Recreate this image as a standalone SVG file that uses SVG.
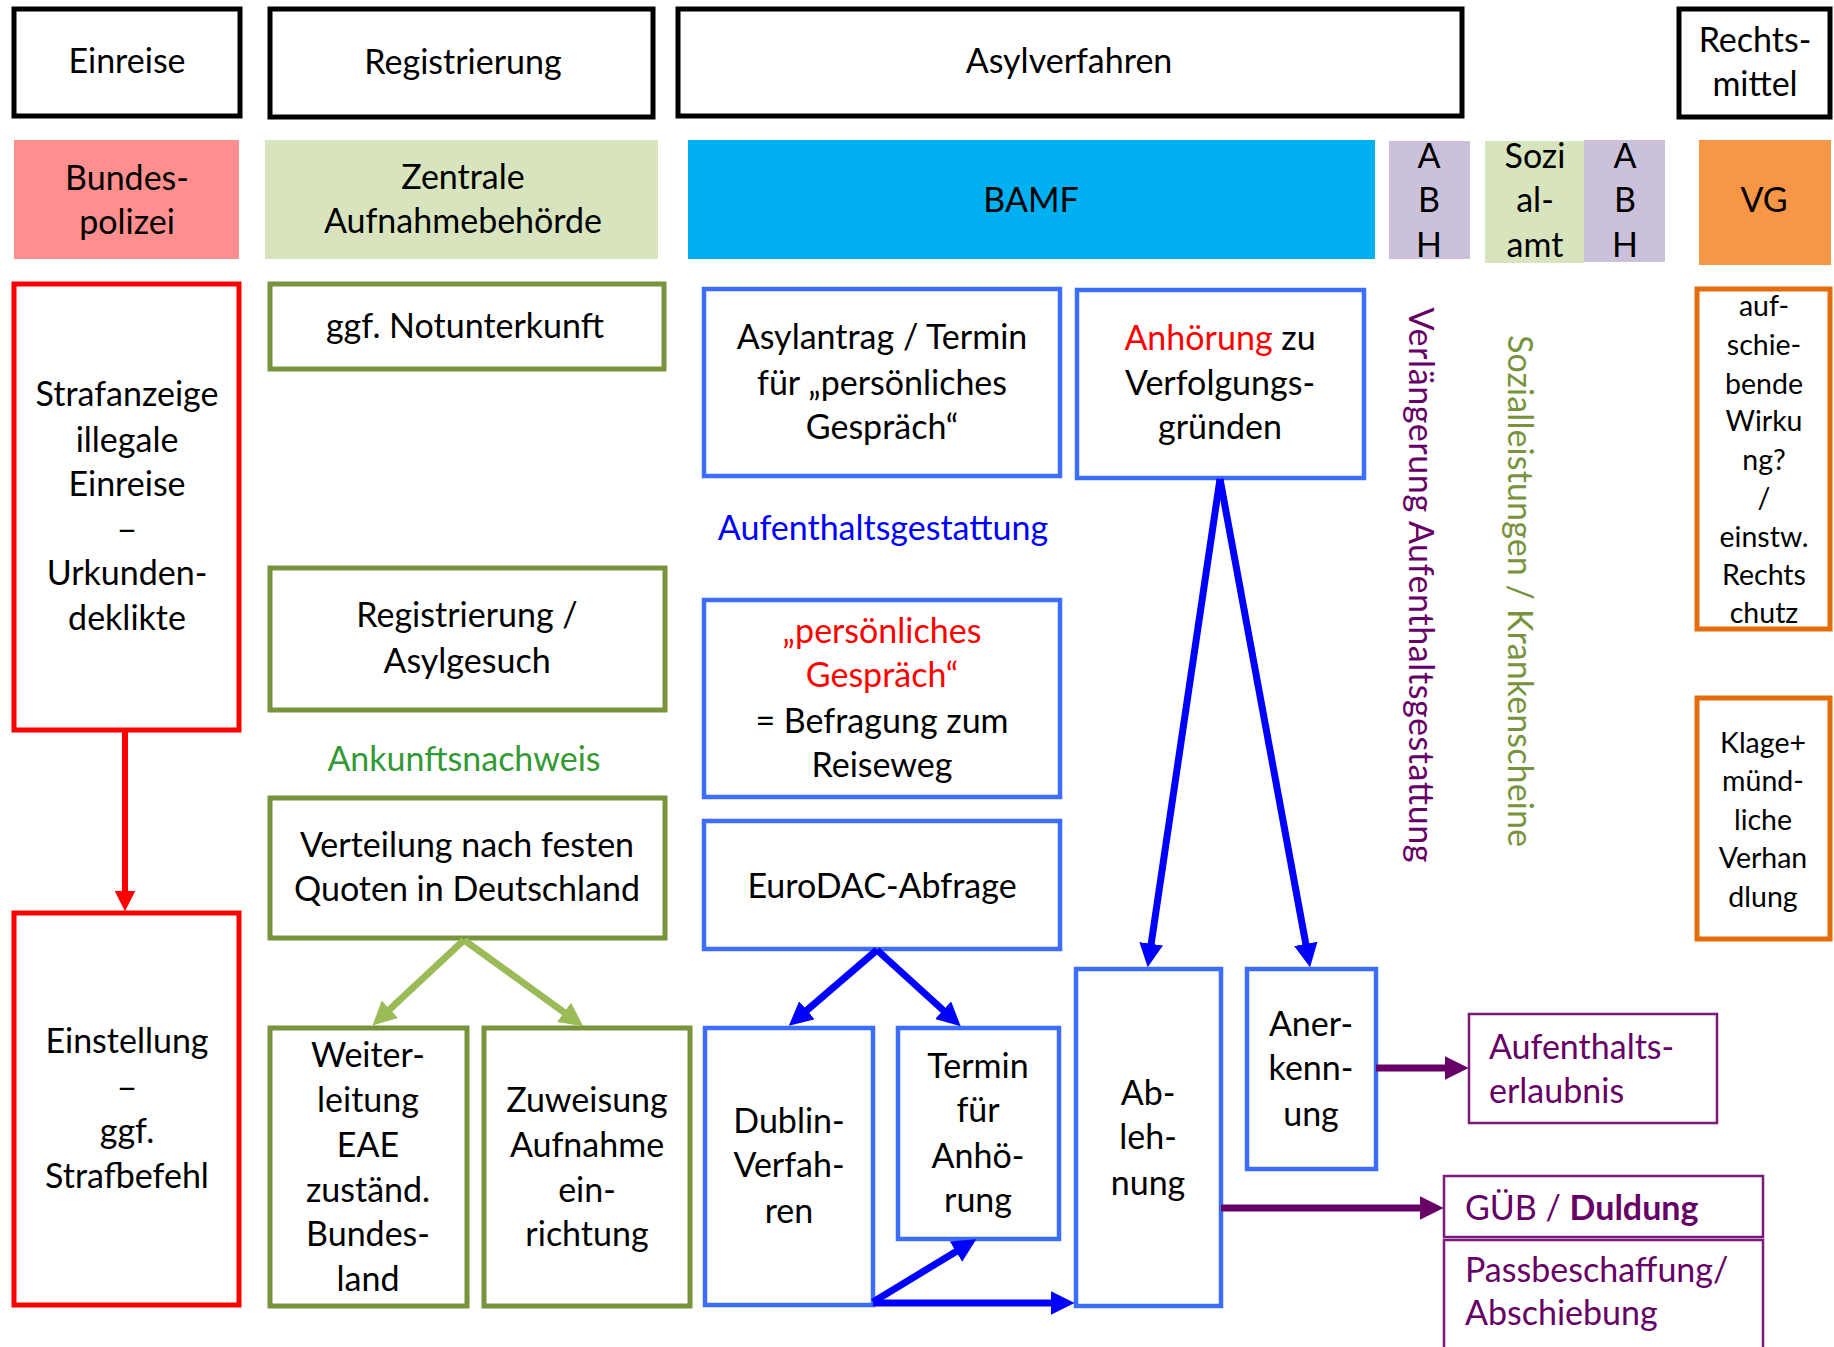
<svg xmlns="http://www.w3.org/2000/svg" width="1834" height="1347" viewBox="0 0 1834 1347">
  <style>
    text { font-family: Lato, "Open Sans", "Liberation Sans", sans-serif; font-size: 34px; fill: #000; text-anchor: middle; }
    .sm { font-size: 28.5px; }
    .lt { text-anchor: start; }
    .hdr { fill: #fff; stroke: #000; stroke-width: 5; }
    .red { fill: #fff; stroke: #ff0000; stroke-width: 5; }
    .grn { fill: #fff; stroke: #77933c; stroke-width: 5; }
    .blu { fill: #fff; stroke: #3d6dff; stroke-width: 4.5; }
    .org { fill: #fff; stroke: #e46c0a; stroke-width: 5; }
    .pur { fill: #fff; stroke: #7a1a7a; stroke-width: 2.5; }
    .c-red { fill: #ff0000; }
    .c-blue { fill: #0000ff; }
    .c-green { fill: #339933; }
    .c-olive { fill: #77933c; }
    .c-purple { fill: #660066; }
    .arr { fill: none; stroke-linecap: butt; stroke-linejoin: miter; }
  </style>
  <defs>
    <marker id="ah-red" viewBox="0 0 10 10" refX="0.5" refY="5" markerWidth="3.4" markerHeight="3.4" orient="auto" markerUnits="strokeWidth">
      <path d="M0,0 L10,5 L0,10 z" fill="#ff0000"/>
    </marker>
    <marker id="ah-green" viewBox="0 0 10 10" refX="0.5" refY="5" markerWidth="3.4" markerHeight="3.4" orient="auto" markerUnits="strokeWidth">
      <path d="M0,0 L10,5 L0,10 z" fill="#9bbb59"/>
    </marker>
    <marker id="ah-blue" viewBox="0 0 10 10" refX="0.5" refY="5" markerWidth="3.4" markerHeight="3.4" orient="auto" markerUnits="strokeWidth">
      <path d="M0,0 L10,5 L0,10 z" fill="#0000ff"/>
    </marker>
    <marker id="ah-purple" viewBox="0 0 10 10" refX="0.5" refY="5" markerWidth="3.4" markerHeight="3.4" orient="auto" markerUnits="strokeWidth">
      <path d="M0,0 L10,5 L0,10 z" fill="#660066"/>
    </marker>
  </defs>

  <rect width="1834" height="1347" fill="#fff"/>

  <!-- phase headers -->
  <g id="hdr-einreise"><rect class="hdr" x="14" y="9" width="226" height="107"/><text x="127" y="73">Einreise</text></g>
  <g id="hdr-registrierung"><rect class="hdr" x="270" y="9" width="383" height="108"/><text x="463" y="74">Registrierung</text></g>
  <g id="hdr-asylverfahren"><rect class="hdr" x="678" y="9" width="784" height="107"/><text x="1069" y="73">Asylverfahren</text></g>
  <g id="hdr-rechtsmittel"><rect class="hdr" x="1679" y="9" width="151" height="108"/><text x="1755" y="52">Rechts-</text><text x="1755" y="96">mittel</text></g>

  <!-- authorities -->
  <g id="ag-bundespolizei"><rect x="14" y="140" width="225" height="119" fill="#ff8f8f"/><text x="127" y="190">Bundes-</text><text x="127" y="234">polizei</text></g>
  <g id="ag-zab"><rect x="265" y="140" width="393" height="119" fill="#d7e4bd"/><text x="463" y="189">Zentrale</text><text x="463" y="233">Aufnahmebehörde</text></g>
  <g id="ag-bamf"><rect x="688" y="140" width="687" height="119" fill="#00b0f0"/><text x="1031" y="212">BAMF</text></g>
  <g id="ag-abh1"><rect x="1389" y="141" width="81" height="118" fill="#ccc1da"/><text x="1429" y="168">A</text><text x="1429" y="212">B</text><text x="1429" y="257">H</text></g>
  <g id="ag-sozialamt"><rect x="1485" y="141" width="99" height="122" fill="#d7e4bd"/><text x="1535" y="168">Sozi</text><text x="1535" y="212">al-</text><text x="1535" y="257">amt</text></g>
  <g id="ag-abh2"><rect x="1584" y="140" width="81" height="122" fill="#ccc1da"/><text x="1625" y="168">A</text><text x="1625" y="212">B</text><text x="1625" y="257">H</text></g>
  <g id="ag-vg"><rect x="1699" y="140" width="132" height="125" fill="#f79646"/><text x="1764" y="212">VG</text></g>

  <!-- Einreise column -->
  <g id="n-strafanzeige">
    <rect class="red" x="14" y="284" width="225" height="446"/>
    <text x="127" y="406">Strafanzeige</text>
    <text x="127" y="452">illegale</text>
    <text x="127" y="496">Einreise</text>
    <text x="127" y="541" textLength="21" lengthAdjust="spacingAndGlyphs">–</text>
    <text x="127" y="585">Urkunden-</text>
    <text x="127" y="630">deklikte</text>
  </g>
  <g id="n-einstellung">
    <rect class="red" x="14" y="913" width="225" height="392"/>
    <text x="127" y="1053">Einstellung</text>
    <text x="127" y="1099" textLength="21" lengthAdjust="spacingAndGlyphs">–</text>
    <text x="127" y="1143">ggf.</text>
    <text x="127" y="1188">Strafbefehl</text>
  </g>

  <!-- Registrierung column -->
  <g id="n-notunterkunft"><rect class="grn" x="270" y="284" width="394" height="85"/><text x="465" y="338">ggf. Notunterkunft</text></g>
  <g id="n-asylgesuch"><rect class="grn" x="270" y="568" width="395" height="142"/><text x="467" y="627">Registrierung /</text><text x="467" y="673">Asylgesuch</text></g>
  <g id="l-ankunftsnachweis"><text class="c-green" x="464" y="771">Ankunftsnachweis</text></g>
  <g id="n-verteilung"><rect class="grn" x="270" y="798" width="395" height="140"/><text x="467" y="857">Verteilung nach festen</text><text x="467" y="901">Quoten in Deutschland</text></g>
  <g id="n-weiterleitung">
    <rect class="grn" x="270" y="1028" width="197" height="278"/>
    <text x="368" y="1067">Weiter-</text>
    <text x="368" y="1112">leitung</text>
    <text x="368" y="1157">EAE</text>
    <text x="368" y="1202">zuständ.</text>
    <text x="368" y="1246">Bundes-</text>
    <text x="368" y="1291">land</text>
  </g>
  <g id="n-zuweisung">
    <rect class="grn" x="484" y="1028" width="206" height="278"/>
    <text x="587" y="1112">Zuweisung</text>
    <text x="587" y="1157">Aufnahme</text>
    <text x="587" y="1202">ein-</text>
    <text x="587" y="1246">richtung</text>
  </g>

  <!-- Asylverfahren column -->
  <g id="n-asylantrag">
    <rect class="blu" x="704" y="289" width="356" height="187"/>
    <text x="882" y="349">Asylantrag / Termin</text>
    <text x="882" y="395">für „persönliches</text>
    <text x="882" y="439">Gespräch“</text>
  </g>
  <g id="n-anhoerung">
    <rect class="blu" x="1077" y="290" width="287" height="188"/>
    <text x="1220" y="350"><tspan class="c-red">Anhörung</tspan> zu</text>
    <text x="1220" y="395">Verfolgungs-</text>
    <text x="1220" y="439">gründen</text>
  </g>
  <g id="l-gestattung"><text class="c-blue" x="883" y="540">Aufenthaltsgestattung</text></g>
  <g id="n-gespraech">
    <rect class="blu" x="704" y="600" width="356" height="197"/>
    <text class="c-red" x="882" y="643">„persönliches</text>
    <text class="c-red" x="882" y="687">Gespräch“</text>
    <text x="882" y="733">= Befragung zum</text>
    <text x="882" y="777">Reiseweg</text>
  </g>
  <g id="n-eurodac"><rect class="blu" x="704" y="821" width="356" height="128"/><text x="882" y="898">EuroDAC-Abfrage</text></g>
  <g id="n-dublin">
    <rect class="blu" x="705" y="1028" width="168" height="277"/>
    <text x="789" y="1133">Dublin-</text>
    <text x="789" y="1177">Verfah-</text>
    <text x="789" y="1223">ren</text>
  </g>
  <g id="n-termin">
    <rect class="blu" x="898" y="1028" width="161" height="211"/>
    <text x="978" y="1078">Termin</text>
    <text x="978" y="1122">für</text>
    <text x="978" y="1168">Anhö-</text>
    <text x="978" y="1212">rung</text>
  </g>
  <g id="n-ablehnung">
    <rect class="blu" x="1076" y="969" width="145" height="337"/>
    <text x="1148" y="1105">Ab-</text>
    <text x="1148" y="1149">leh-</text>
    <text x="1148" y="1195">nung</text>
  </g>
  <g id="n-anerkennung">
    <rect class="blu" x="1247" y="969" width="129" height="200"/>
    <text x="1311" y="1036">Aner-</text>
    <text x="1311" y="1080">kenn-</text>
    <text x="1311" y="1126">ung</text>
  </g>

  <!-- vertical side notes -->
  <g id="l-verlaengerung"><text class="c-purple" transform="translate(1409,585) rotate(90)" textLength="555" lengthAdjust="spacing">Verlängerung  Aufenthaltsgestattung</text></g>
  <g id="l-sozialleistungen"><text class="c-olive" transform="translate(1508,591) rotate(90)" textLength="512" lengthAdjust="spacing">Sozialleistungen / Krankenscheine</text></g>

  <!-- Rechtsmittel column -->
  <g id="n-aufschiebend">
    <rect class="org" x="1697" y="289" width="133" height="340"/>
    <text class="sm" x="1764" y="316">auf-</text>
    <text class="sm" x="1764" y="355">schie-</text>
    <text class="sm" x="1764" y="394">bende</text>
    <text class="sm" x="1764" y="431">Wirku</text>
    <text class="sm" x="1764" y="470">ng?</text>
    <text class="sm" x="1764" y="508">/</text>
    <text class="sm" x="1764" y="547">einstw.</text>
    <text class="sm" x="1764" y="585">Rechts</text>
    <text class="sm" x="1764" y="623">chutz</text>
  </g>
  <g id="n-klage">
    <rect class="org" x="1697" y="698" width="133" height="241"/>
    <text class="sm" x="1763" y="753">Klage+</text>
    <text class="sm" x="1763" y="791">münd-</text>
    <text class="sm" x="1763" y="830">liche</text>
    <text class="sm" x="1763" y="868">Verhan</text>
    <text class="sm" x="1763" y="907">dlung</text>
  </g>

  <!-- outcomes -->
  <g id="n-aufenthaltserlaubnis">
    <rect class="pur" x="1469" y="1014" width="248" height="109"/>
    <text class="lt c-purple" x="1489" y="1059">Aufenthalts-</text>
    <text class="lt c-purple" x="1489" y="1103">erlaubnis</text>
  </g>
  <g id="n-duldung">
    <rect class="pur" x="1444" y="1176" width="319" height="61"/>
    <text class="lt c-purple" x="1465" y="1220">GÜB / <tspan font-weight="bold">Duldung</tspan></text>
  </g>
  <g id="n-abschiebung">
    <rect class="pur" x="1444" y="1240" width="319" height="130"/>
    <text class="lt c-purple" x="1465" y="1282">Passbeschaffung/</text>
    <text class="lt c-purple" x="1465" y="1325">Abschiebung</text>
  </g>

  <!-- connectors -->
  <g id="connectors" class="arr">
    <path d="M125,730 L125,892" stroke="#ff0000" stroke-width="6" marker-end="url(#ah-red)"/>
    <path d="M464,940 L389,1010" stroke="#9bbb59" stroke-width="7" marker-end="url(#ah-green)"/>
    <path d="M464,940 L565,1013" stroke="#9bbb59" stroke-width="7" marker-end="url(#ah-green)"/>
    <path d="M877,950 L806,1011" stroke="#0000ff" stroke-width="7" marker-end="url(#ah-blue)"/>
    <path d="M877,950 L944,1011" stroke="#0000ff" stroke-width="7" marker-end="url(#ah-blue)"/>
    <path d="M1220,479 L1151,945" stroke="#0000ff" stroke-width="7" marker-end="url(#ah-blue)"/>
    <path d="M1220,479 L1306,945" stroke="#0000ff" stroke-width="7" marker-end="url(#ah-blue)"/>
    <path d="M873,1302 L957,1251" stroke="#0000ff" stroke-width="7" marker-end="url(#ah-blue)"/>
    <path d="M873,1303 L1052,1303" stroke="#0000ff" stroke-width="7" marker-end="url(#ah-blue)"/>
    <path d="M1376,1068 L1446,1068" stroke="#660066" stroke-width="7" marker-end="url(#ah-purple)"/>
    <path d="M1221,1208 L1421,1208" stroke="#660066" stroke-width="7" marker-end="url(#ah-purple)"/>
  </g>
</svg>
